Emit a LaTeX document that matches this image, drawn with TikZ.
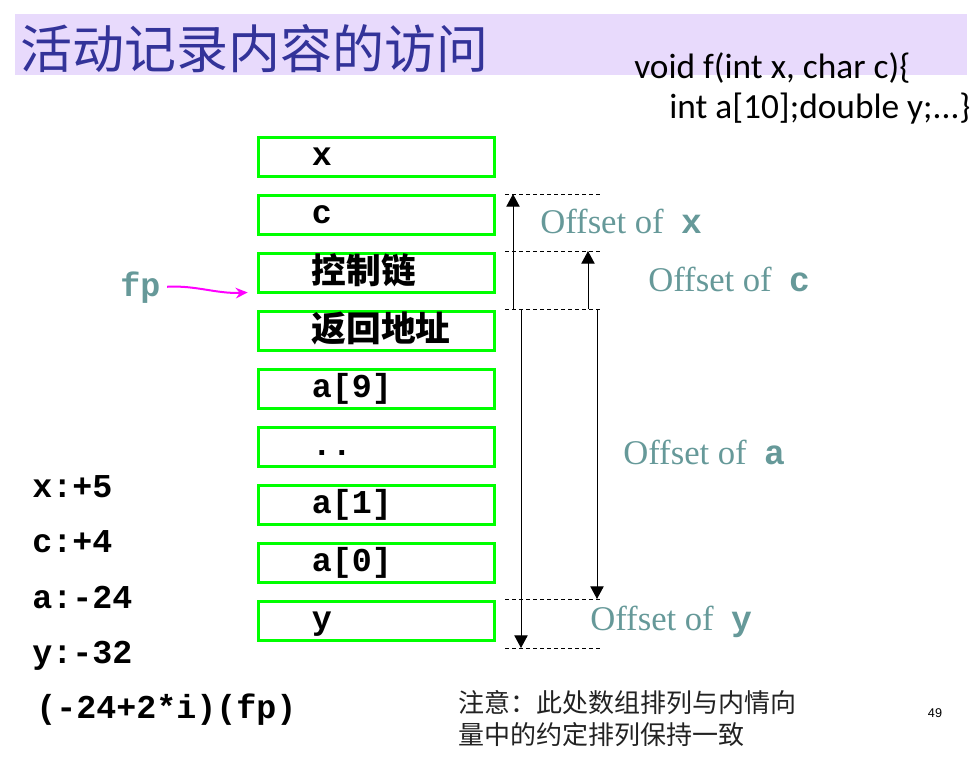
\documentclass[tikz,border=0pt]{standalone}
\usepackage{fontspec}
\setmainfont{Liberation Serif}
\setmonofont{Liberation Mono}
\newfontfamily\cjk{Noto Sans CJK SC}
\newfontfamily\codefont{Carlito}
\newfontfamily\numfont{Liberation Sans}
\usepackage{tikz}
\usetikzlibrary{positioning, arrows.meta, calc}

\definecolor{boxgreen}{RGB}{0,255,0}
\definecolor{offteal}{RGB}{102,153,153}
\definecolor{titleblue}{RGB}{51,51,153}
\definecolor{titlebg}{RGB}{232,218,252}
\definecolor{fpmagenta}{RGB}{255,0,255}
\definecolor{notegray}{RGB}{34,34,34}

\tikzset{
  cell/.style={draw=boxgreen, line width=2.25pt, minimum width=177pt, minimum height=29.25pt,
    text width=97pt, inner xsep=40pt, inner ysep=0pt, align=left, text height=16pt, text depth=4pt,
    font=\fontsize{25}{28}\selectfont\ttfamily\bfseries},
  cjkcell/.style={font=\cjk\fontsize{26}{28}\selectfont\bfseries, text height=19pt, text depth=4pt},
  listline/.style={anchor=base west, inner sep=0pt, font=\fontsize{25}{28}\selectfont\ttfamily\bfseries},
  codeline/.style={anchor=base west, inner sep=0pt, font=\codefont\fontsize{26.5}{30}\selectfont},
  offlabel/.style={anchor=base west, inner sep=0pt, text=offteal, font=\fontsize{26}{30}\selectfont},
  offarrow/.style={line width=0.75pt, -{Triangle[length=9.5pt, width=10pt]}},
  guide/.style={line width=0.6pt, dash pattern=on 3pt off 2.25pt},
  fparrow/.style={draw=fpmagenta, line width=1.5pt, -{Stealth[length=9pt, width=8pt, inset=3pt]}}
}

\begin{document}
\begin{tikzpicture}[x=0.75pt, y=-0.75pt]
\useasboundingbox (0,0) rectangle (979,758);

\fill[titlebg] (15,14) rectangle (967,75);
\node[anchor=west, inner sep=0pt, text=titleblue, font=\cjk\fontsize{39}{44}\selectfont] (title) at (20,49) {活动记录内容的访问};

\node[codeline] (sig) at (634,78) {void f(int x, char c)\{};
\node[codeline] (body) at (669,118) {int a[10];double y;...\}};

\node[cell] (bx) at (376.5,157) {x};
\node[cell, below=12pt of bx] (bc) {c};
\node[cell, cjkcell, below=12pt of bc] (bctl) {控制链};
\node[cell, cjkcell, below=12pt of bctl] (bret) {返回地址};
\node[cell, below=12pt of bret] (ba9) {a[9]};
\node[cell, below=12pt of ba9] (bdots) {..};
\node[cell, below=12pt of bdots] (ba1) {a[1]};
\node[cell, below=12pt of ba1] (ba0) {a[0]};
\node[cell, below=12pt of ba0] (by) {y};

\node[listline, text=offteal] (fp) at (120,296) {fp};
\draw[fparrow, shorten <=5pt, shorten >=7pt] (fp.east) .. controls +(35,-2) and +(-40,2) .. ([yshift=1.5pt]bctl.south west);

\coordinate (L1) at (505,194);
\coordinate (L2) at (505,251);
\coordinate (L3) at (505,309);
\coordinate (L4) at (505,599);
\coordinate (L5) at (505,648);
\foreach \c in {L1,L2,L3,L4,L5}
  \draw[guide] (\c) -- ++(97,0);

\draw[offarrow] ($(L3)+(8,0)$) -- ($(L1)+(8,0)$);
\draw[offarrow] ($(L3)+(83,0)$) -- ($(L2)+(83,0)$);
\draw[offarrow] ($(L3)+(92,0)$) -- ($(L4)+(92,0)$);
\draw[offarrow] ($(L3)+(16,0)$) -- ($(L5)+(16,0)$);

\node[offlabel] (ofx) at (540,233) {Offset of\ \ {\ttfamily\bfseries x}};
\node[offlabel] (ofc) at (648,291) {Offset of\ \ {\ttfamily\bfseries c}};
\node[offlabel] (ofa) at (623,464) {Offset of\ \ {\ttfamily\bfseries a}};
\node[offlabel] (ofy) at (590,630) {Offset of\ \ {\ttfamily\bfseries y}};

\node[listline] (vx) at (32,497) {x:+5};
\node[listline] (vc) at (32,552) {c:+4};
\node[listline] (va) at (32,608) {a:-24};
\node[listline] (vy) at (32,663) {y:-32};
\node[listline] (vi) at (36,718) {(-24+2*i)(fp)};

\node[anchor=north west, align=left, inner sep=0pt, text=notegray, font=\cjk\fontsize{19.5}{24}\selectfont] (note) at (458,690) {注意：此处数组排列与内情向\\量中的约定排列保持一致};
\node[font=\numfont\fontsize{9.5}{11}\selectfont] (page) at (935,713) {49};
\end{tikzpicture}
\end{document}
